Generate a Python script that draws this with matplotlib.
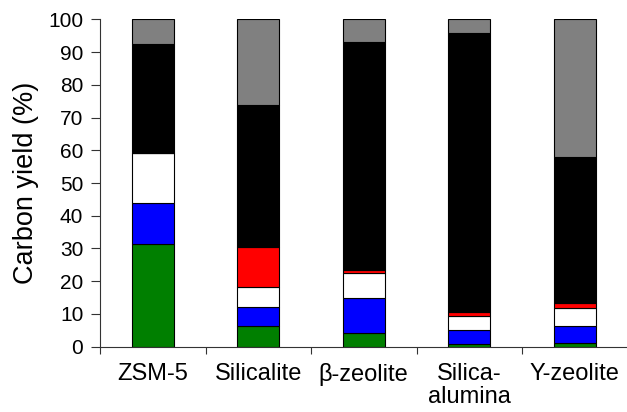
import matplotlib
matplotlib.use("Agg")
import matplotlib.pyplot as plt
from matplotlib.ticker import FixedLocator
import numpy as np

plt.rcParams['font.family'] = ['Liberation Sans', 'DejaVu Sans']

catalysts = ["ZSM-5", "Silicalite", "β-zeolite", "Silica-\nalumina", "Y-zeolite"]

# cumulative tops of each stacked fraction (carbon yield, %)
green_top = [31.3, 6.4, 4.3, 0.7, 1.0]
blue_top = [44.0, 12.2, 14.8, 5.1, 6.3]
white_top = [59.2, 18.3, 22.5, 9.5, 11.7]
red_top = [59.2, 30.5, 23.4, 10.7, 13.4]
black_top = [92.5, 73.9, 93.1, 95.7, 58.0]
gray_top = [100, 100, 100, 100, 100]

tops = [green_top, blue_top, white_top, red_top, black_top, gray_top]
colors = ["#007f00", "#0000ff", "#ffffff", "#ff0000", "#000000", "#808080"]

W, H = 627, 412
fig = plt.figure(figsize=(W / 100, H / 100), dpi=100)
ax = fig.add_axes([100 / W, 65.3 / H, 527.5 / W, 327.4 / H])

x = np.arange(len(catalysts))
bottom = np.zeros(len(catalysts))
for top, c in zip(tops, colors):
    top = np.array(top, dtype=float)
    ax.bar(x, top - bottom, bottom=bottom, width=0.4, color=c,
           edgecolor="black", linewidth=0.8)
    bottom = top

ax.set_xlim(-0.5, len(catalysts) - 0.5)
ax.set_ylim(0, 100)
ax.set_yticks(np.arange(0, 101, 10))
ax.set_xticks(x)
ax.set_xticklabels(catalysts, fontsize=17, linespacing=1.02)
ax.xaxis.set_minor_locator(FixedLocator(np.arange(-0.5, len(catalysts), 1.0)))
ax.tick_params(axis='x', which='major', length=0, pad=12)
ax.tick_params(axis='x', which='minor', length=5, width=0.8, direction='out', color='#333333')
ax.tick_params(axis='y', length=6.5, width=0.8, direction='out', labelsize=15, pad=5.5, color='#333333')

ax.set_ylabel("Carbon yield (%)", fontsize=19.5, labelpad=6.5)

for s in ['top', 'right']:
    ax.spines[s].set_visible(False)
for s in ['left', 'bottom']:
    ax.spines[s].set_linewidth(0.8)
    ax.spines[s].set_color('#333333')

fig.savefig("out.png", dpi=100)
